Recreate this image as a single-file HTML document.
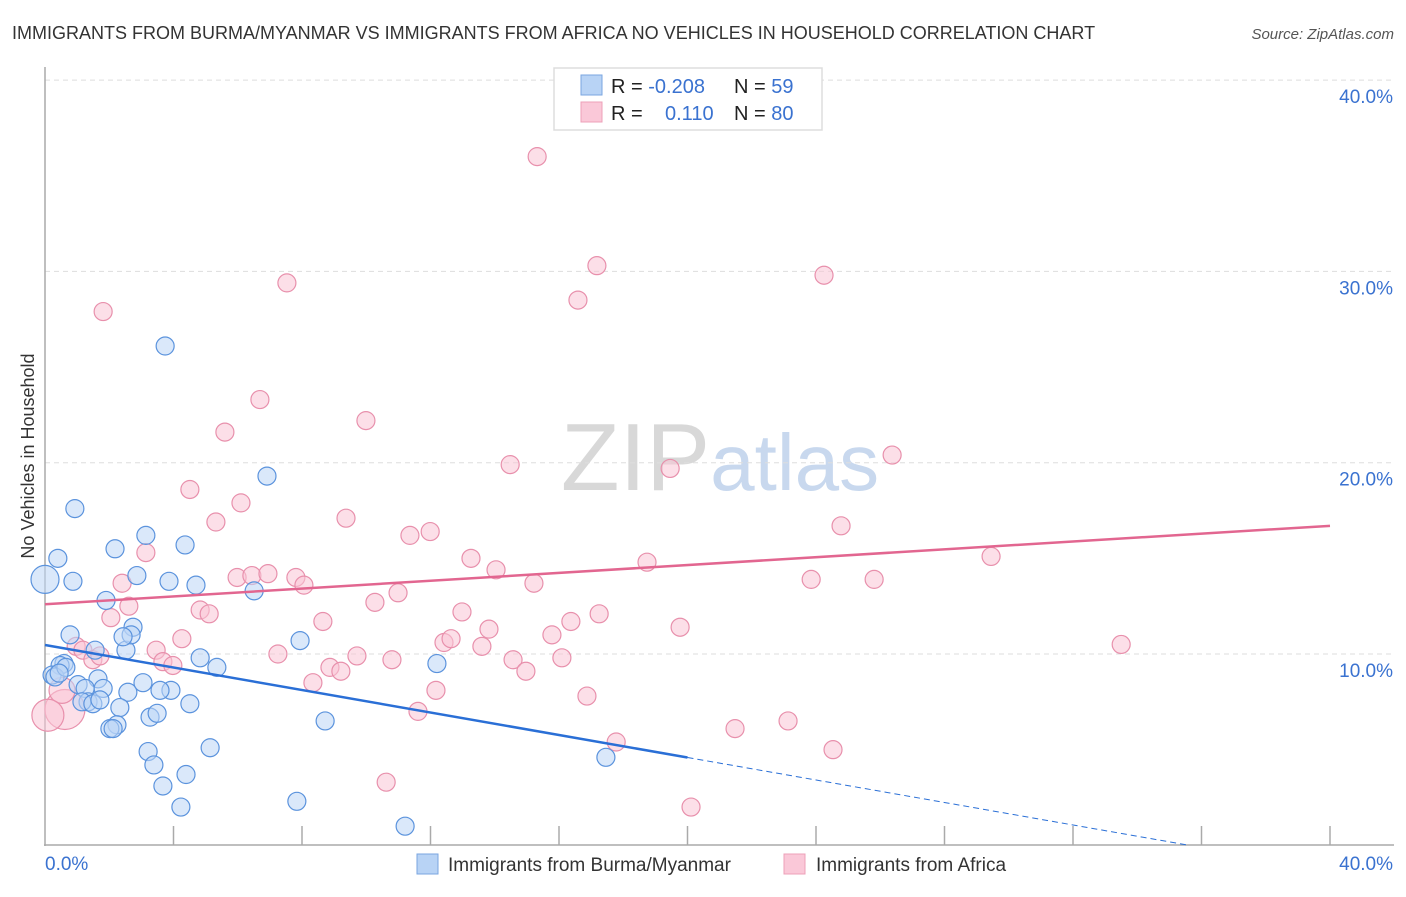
<!DOCTYPE html>
<html><head><meta charset="utf-8"><style>
body{margin:0;background:#fff;font-family:"Liberation Sans",sans-serif;}
svg text{font-family:"Liberation Sans",sans-serif;}
</style></head><body>
<svg id="chart" width="1406" height="892" viewBox="0 0 1406 892" xmlns="http://www.w3.org/2000/svg">
<text x="12" y="39" font-size="18" fill="#333">IMMIGRANTS FROM BURMA/MYANMAR VS IMMIGRANTS FROM AFRICA NO VEHICLES IN HOUSEHOLD CORRELATION CHART</text>
<text x="1394" y="39" font-size="15" fill="#555" text-anchor="end" font-style="italic">Source: ZipAtlas.com</text>
<text x="720" y="490" font-size="96" text-anchor="middle" fill="#ddd" font-family="Liberation Serif"><tspan fill="#d8d8d8">ZIP</tspan><tspan fill="#c8d8ee" font-family="Liberation Sans" font-size="80">atlas</tspan></text>
<text transform="translate(34,456) rotate(-90)" font-size="18" fill="#333" text-anchor="middle">No Vehicles in Household</text>
<g id="grid"></g><g id="axes"></g><g id="marks"></g>
<g>
<rect x="554" y="68" width="268" height="62" fill="#fff" stroke="#ddd" stroke-width="1.5"/>
<rect x="581" y="75" width="21" height="20" fill="#b8d3f5" stroke="#7aa6e0"/>
<rect x="581" y="102" width="21" height="20" fill="#fac8d8" stroke="#eda0b8"/>
<text x="611" y="93" font-size="20" fill="#222">R = <tspan fill="#3a72d0">-0.208</tspan></text>
<text x="734" y="93" font-size="20" fill="#222">N = <tspan fill="#3a72d0">59</tspan></text>
<text x="611" y="120" font-size="20" fill="#222">R = </text>
<text x="665" y="120" font-size="20" fill="#3a72d0">0.110</text>
<text x="734" y="120" font-size="20" fill="#222">N = <tspan fill="#3a72d0">80</tspan></text>
</g>
<g>
<rect x="417" y="854" width="21" height="20" fill="#b8d3f5" stroke="#7aa6e0"/>
<text x="448" y="871" font-size="19" fill="#333">Immigrants from Burma/Myanmar</text>
<rect x="784" y="854" width="21" height="20" fill="#fac8d8" stroke="#eda0b8"/>
<text x="816" y="871" font-size="19" fill="#333">Immigrants from Africa</text>
</g>
</svg>
<script>
const blueX=[0,0.4,0.93,0.87,3.74,6.91,3.14,2.18,4.36,2.86,3.86,4.70,6.51,1.90,0.78,1.56,2.52,2.74,2.68,2.43,0.59,0.47,0.22,0.31,1.03,1.65,1.25,1.81,1.34,1.15,2.58,3.05,3.92,4.51,4.83,5.35,7.94,12.20,2.33,3.27,3.49,2.24,2.02,2.12,8.72,5.14,3.21,3.39,3.67,4.39,4.23,7.84,11.21,17.46,1.49,0.65,0.44,1.71,3.58];
const blueY=[13.9,15.0,17.6,13.8,26.1,19.3,16.2,15.5,15.7,14.1,13.8,13.6,13.3,12.8,11.0,10.2,10.2,11.4,11.0,10.9,9.5,9.4,8.9,8.8,8.4,8.7,8.2,8.2,7.5,7.5,8.0,8.5,8.1,7.4,9.8,9.3,10.7,9.5,7.2,6.7,6.9,6.3,6.1,6.1,6.5,5.1,4.9,4.2,3.1,3.7,2.0,2.3,1.0,4.6,7.4,9.3,9.0,7.6,8.1];
const blueSize=[14,9,9,9,9,9,9,9,9,9,9,9,9,9,9,9,9,9,9,9,9,9,9,9,9,9,9,9,9,9,9,9,9,9,9,9,9,9,9,9,9,9,9,9,9,9,9,9,9,9,9,9,9,9,9,9,9,9,9];
const pinkX=[15.32,17.18,16.59,7.53,24.25,1.81,6.69,9.99,5.60,14.48,19.46,26.37,4.51,6.10,5.32,9.37,11.99,11.36,24.78,3.14,13.26,14.04,18.74,29.45,2.40,5.98,6.44,6.94,7.81,8.06,15.22,23.85,25.81,10.27,10.99,2.61,4.83,5.11,8.65,12.98,17.25,16.37,2.05,4.26,13.82,15.78,12.42,12.64,19.77,33.50,3.46,0.97,1.18,1.49,1.71,7.25,9.71,10.80,13.60,14.57,16.09,3.67,3.98,8.87,9.21,14.97,8.34,12.17,11.61,16.87,23.13,21.48,24.53,17.78,10.62,20.11,0.62,0.53,0.09];
const pinkY=[36.0,30.3,28.5,29.4,29.8,27.9,23.3,22.2,21.6,19.9,19.7,20.4,18.6,17.9,16.9,17.1,16.4,16.2,16.7,15.3,15.0,14.4,14.8,15.1,13.7,14.0,14.1,14.2,14.0,13.6,13.7,13.9,13.9,12.7,13.2,12.5,12.3,12.1,11.7,12.2,12.1,11.7,11.9,10.8,11.3,11.0,10.6,10.8,11.4,10.5,10.2,10.4,10.2,9.7,9.9,10.0,9.9,9.7,10.4,9.7,9.8,9.6,9.4,9.3,9.1,9.1,8.5,8.1,7.0,7.8,6.5,6.1,5.0,5.4,3.3,2.0,7.1,8.1,6.8];
const pinkSize=[];for(let i=0;i<pinkX.length;i++)pinkSize.push(9);pinkSize[76]=20;pinkSize[77]=13;pinkSize[78]=16;
const yTicks=[10,20,30,40];
const yTickLabels=["10.0%","20.0%","30.0%","40.0%"];
const xTicks=[4,8,12,16,20,24,28,32,36,40];
const blueTrend=[10.47,-0.294];
const pinkTrend=[12.6,0.1025];
const NS="http://www.w3.org/2000/svg";
const sx=v=>45+v/40*1285;
const sy=v=>845.3-v*19.13;
function mk(t,a,p){const e=document.createElementNS(NS,t);for(const k in a)e.setAttribute(k,a[k]);p.appendChild(e);return e;}
const grid=document.getElementById('grid'),axes=document.getElementById('axes'),marks=document.getElementById('marks');
yTicks.forEach((t,i)=>{
 const l=mk('line',{x1:45,x2:1394,y1:sy(t),y2:sy(t),stroke:'#ddd','stroke-dasharray':'5,4'},grid);
 
 
 const tx=mk('text',{x:1393,y:sy(t)+23,'font-size':19,fill:'#3a72d0','text-anchor':'end'},axes);
 tx.textContent=yTickLabels[i];
 
 
});
const ya=mk('line',{x1:45,x2:45,y1:67,y2:846,stroke:'#aaa','stroke-width':1.5},axes);


const xa=mk('line',{x1:44,x2:1394,y1:845,y2:845,stroke:'#aaa','stroke-width':1.5},axes);


xTicks.forEach(t=>{
 const l=mk('line',{x1:sx(t),x2:sx(t),y1:826,y2:845,stroke:'#aaa','stroke-width':1.5},axes);
 
 
});
const x0=mk('text',{x:45,y:870,'font-size':19,fill:'#3a72d0'},axes);x0.textContent='0.0%';


const x1=mk('text',{x:1393,y:870,'font-size':19,fill:'#3a72d0','text-anchor':'end'},axes);x1.textContent='40.0%';


function pts(X,Y,S,fill,stroke,name){X.forEach((x,i)=>{
 const c=mk('circle',{cx:sx(x),cy:sy(Y[i]),r:S[i],fill:fill,'fill-opacity':0.55,stroke:stroke,'stroke-width':1.2},marks);
 
 
});}
pts(pinkX,pinkY,pinkSize,'#f9c4d6','#e890ac','africa-point');
pts(blueX,blueY,blueSize,'#bcd6f6','#5b93dd','burma-point');
const bEnd=20, bZero=-blueTrend[0]/blueTrend[1];
const bl=mk('line',{x1:sx(0),y1:sy(blueTrend[0]),x2:sx(bEnd),y2:sy(blueTrend[0]+blueTrend[1]*bEnd),stroke:'#2a6fd6','stroke-width':2.5},marks);


const bd=mk('line',{x1:sx(bEnd),y1:sy(blueTrend[0]+blueTrend[1]*bEnd),x2:sx(bZero),y2:sy(0),stroke:'#2a6fd6','stroke-width':1,'stroke-dasharray':'6,4'},marks);


const pl=mk('line',{x1:sx(0),y1:sy(pinkTrend[0]),x2:sx(40),y2:sy(pinkTrend[0]+pinkTrend[1]*40),stroke:'#e26690','stroke-width':2.5},marks);


</script>
</body></html>
